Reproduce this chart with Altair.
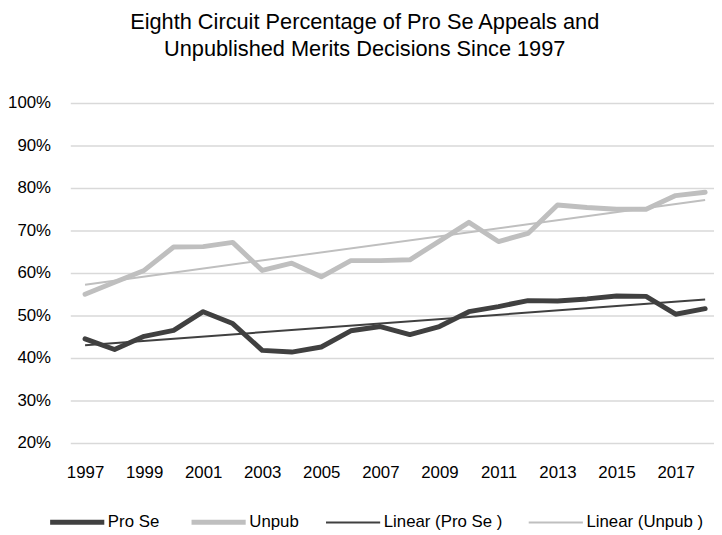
import altair as alt
import pandas as pd

years = list(range(1997, 2019))
pro_se = [44.5, 42.0, 45.1, 46.5, 50.9, 48.1, 41.8, 41.4, 42.6, 46.4, 47.4,
          45.5, 47.4, 50.9, 52.1, 53.5, 53.4, 53.9, 54.6, 54.5, 50.3, 51.6]
unpub = [55.0, 57.8, 60.6, 66.1, 66.2, 67.2, 60.6, 62.3, 59.1, 62.9, 62.9,
         63.1, 67.5, 71.9, 67.4, 69.3, 76.0, 75.4, 75.0, 75.0, 78.2, 79.0]
series_names = ["Pro Se", "Unpub"]
legend_labels = ["Pro Se", "Unpub", "Linear (Pro Se )", "Linear (Unpub )"]
colors = ["#404040", "#bfbfbf", "#404040", "#bfbfbf"]
widths = [5, 5, 2, 2]
x_ticks = list(range(1997, 2018, 2))
y_ticks = list(range(20, 101, 10))

rows = []
for name, vals in zip(series_names, [pro_se, unpub]):
    for y, v in zip(years, vals):
        rows.append({"year": y, "value": v, "series": name})
df = pd.DataFrame(rows)

FONT = "Liberation Sans"

x = alt.X("year:Q", scale=alt.Scale(domain=[1996.5, 2018.3], nice=False, zero=False),
          axis=alt.Axis(values=x_ticks, format="d", grid=False, domain=False, ticks=False,
                        labelFontSize=17, labelPadding=22, labelColor="#000000",
                        labelFont=FONT, title=None, labelFlush=False))
y = alt.Y("value:Q", scale=alt.Scale(domain=[20, 100], nice=False, zero=False),
          axis=alt.Axis(values=y_ticks, labelExpr="datum.value + '%'", grid=True,
                        gridColor="#d9d9d9", gridWidth=1.5, domain=False, ticks=False,
                        labelFontSize=17, labelPadding=20, labelColor="#000000",
                        labelFont=FONT, title=None))

color = alt.Color("label:N", scale=alt.Scale(domain=legend_labels, range=colors),
                  legend=alt.Legend(orient="none", direction="horizontal", title=None,
                                    legendX=-23, legendY=394, labelFontSize=17,
                                    labelFont=FONT, labelColor="#000000",
                                    symbolType="stroke", symbolSize=3000,
                                    labelOffset=1, columnPadding=22, columns=4))
sw = alt.StrokeWidth("label:N",
                     scale=alt.Scale(type="ordinal", domain=legend_labels, range=widths),
                     legend=None)

base = alt.Chart(df)

lines = base.transform_calculate(label="datum.series").mark_line(
    strokeCap="round", strokeJoin="round").encode(
    x=x, y=y, color=color, strokeWidth=sw, detail="series:N")

trend = base.transform_regression(
    "year", "value", groupby=["series"], extent=[1997, 2018], method="linear"
).transform_calculate(label="'Linear (' + datum.series + ' )'").mark_line().encode(
    x=x, y=y, color=color, strokeWidth=sw, detail="series:N")

chart = alt.layer(lines, trend).properties(
    width=651, height=344,
    title=alt.Title(["Eighth Circuit Percentage of Pro Se Appeals and",
                     "Unpublished Merits Decisions Since 1997"],
                    fontSize=22, font=FONT, fontWeight="normal", color="#000000",
                    anchor="middle", frame="bounds", offset=33, lineHeight=28, dx=4),
    autosize=alt.AutoSizeParams(type="none"),
    padding={"left": 63, "top": 93, "right": 0, "bottom": 89},
).configure_view(stroke=None)

chart.save("out.html", embed_options={"renderer": "svg", "actions": False})
